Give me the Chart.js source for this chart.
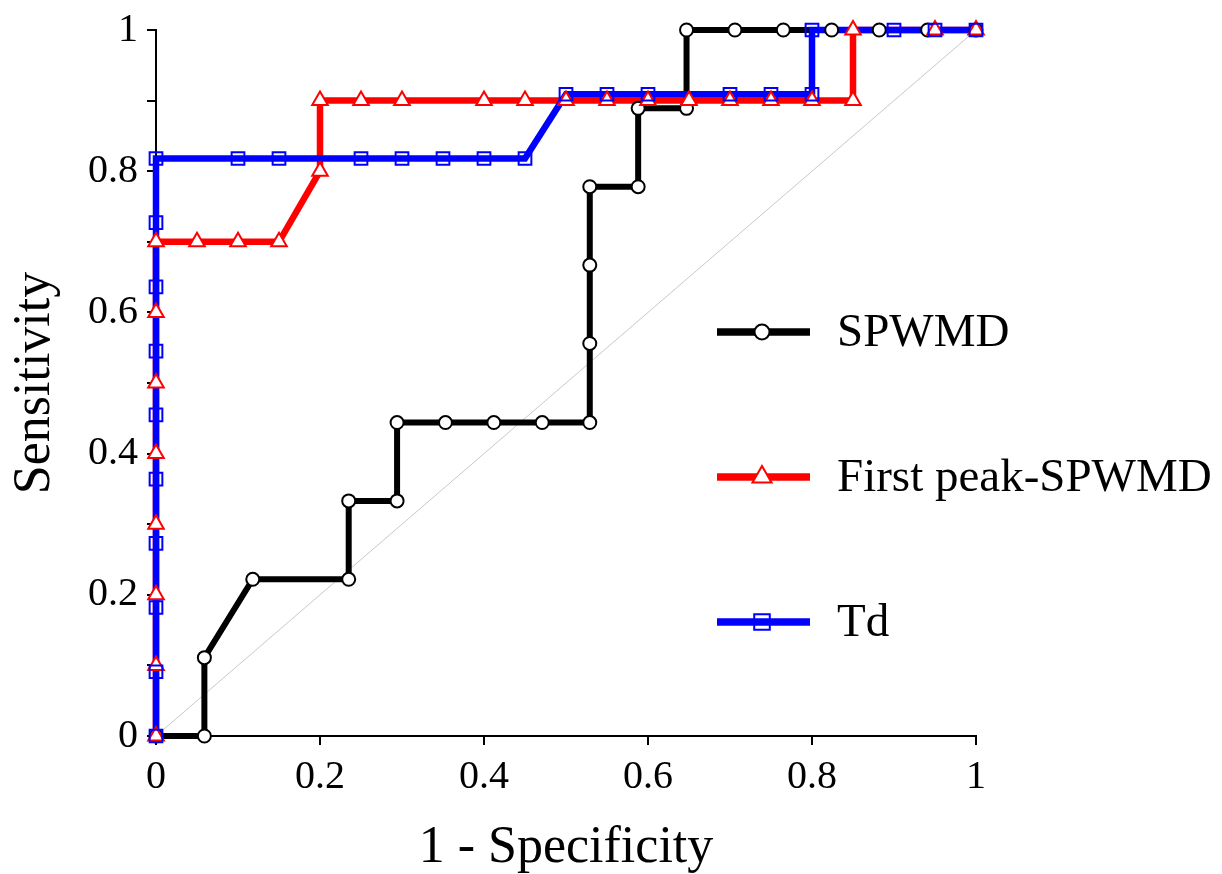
<!DOCTYPE html>
<html>
<head>
  <title>ROC curves</title>
  <script src="https://cdn.jsdelivr.net/npm/chart.js"></script>
  <style>
    body { margin: 0; background: white; }
    canvas { display: block; }
  </style>
</head>
<body>
  <canvas id="rocChart" width="1222" height="874"></canvas>
  <script>
    // 1 - specificity (x) and sensitivity (y)
    const spwmdX = [0, 0.059, 0.059, 0.118, 0.235, 0.235, 0.294, 0.294, 0.353, 0.412, 0.471, 0.529, 0.529, 0.529, 0.529, 0.588, 0.588, 0.647, 0.647, 0.706, 0.765, 0.824, 0.882, 0.941, 1];
    const spwmdY = [0, 0, 0.111, 0.222, 0.222, 0.333, 0.333, 0.444, 0.444, 0.444, 0.444, 0.444, 0.556, 0.667, 0.778, 0.778, 0.889, 0.889, 1, 1, 1, 1, 1, 1, 1];

    const peakX = [0, 0, 0, 0, 0, 0, 0, 0, 0.05, 0.1, 0.15, 0.2, 0.2, 0.25, 0.3, 0.4, 0.45, 0.5, 0.55, 0.6, 0.65, 0.7, 0.75, 0.8, 0.85, 0.85, 0.95, 1];
    const peakY = [0, 0.1, 0.2, 0.3, 0.4, 0.5, 0.6, 0.7, 0.7, 0.7, 0.7, 0.8, 0.9, 0.9, 0.9, 0.9, 0.9, 0.9, 0.9, 0.9, 0.9, 0.9, 0.9, 0.9, 0.9, 1, 1, 1];

    const tdX = [0, 0, 0, 0, 0, 0, 0, 0, 0, 0, 0.1, 0.15, 0.25, 0.3, 0.35, 0.4, 0.45, 0.5, 0.55, 0.6, 0.7, 0.75, 0.8, 0.8, 0.9, 0.95, 1];
    const tdY = [0, 0.091, 0.182, 0.273, 0.364, 0.455, 0.545, 0.636, 0.727, 0.818, 0.818, 0.818, 0.818, 0.818, 0.818, 0.818, 0.818, 0.909, 0.909, 0.909, 0.909, 0.909, 0.909, 1, 1, 1, 1];

    const diagX = [0, 1];
    const diagY = [0, 1];

    const seriesNames = ['SPWMD', 'First peak-SPWMD', 'Td'];
    const xTickLabels = ['0', '0.2', '0.4', '0.6', '0.8', '1'];
    const yTickLabels = ['0', '0.2', '0.4', '0.6', '0.8', '1'];

    const serif = "'Liberation Serif', 'Times New Roman', serif";

    function zip(xs, ys) {
      return xs.map((x, i) => ({ x: x, y: ys[i] }));
    }

    function lineSet(data, color, width, order) {
      return {
        data: data, showLine: true, borderColor: color, borderWidth: width,
        pointRadius: 0, tension: 0, clip: false, order: order
      };
    }

    function markerSet(data, color, style, radius, fill, order) {
      return {
        data: data, showLine: false, pointStyle: style, pointRadius: radius,
        pointBorderColor: color, pointBackgroundColor: fill, pointBorderWidth: 2,
        clip: false, order: order
      };
    }

    // legend drawn inside the plot, like the original
    const legendStyle = [
      { color: '#000000', style: 'circle', r: 7.5, fill: '#ffffff' },
      { color: '#ff0000', style: 'triangle', r: 11, fill: '#ffffff' },
      { color: '#0000ff', style: 'rect', r: 11, fill: 'rgba(255,255,255,0)' }
    ];

    function drawMarker(ctx, style, x, y, r) {
      ctx.beginPath();
      if (style === 'circle') {
        ctx.arc(x, y, r, 0, Math.PI * 2);
      } else if (style === 'triangle') {
        ctx.moveTo(x, y - r);
        ctx.lineTo(x + r * 0.866, y + r / 2);
        ctx.lineTo(x - r * 0.866, y + r / 2);
        ctx.closePath();
      } else {
        const s = r * Math.SQRT1_2;
        ctx.rect(x - s, y - s, 2 * s, 2 * s);
      }
      ctx.fill();
      ctx.stroke();
    }

    const insideLegend = {
      id: 'insideLegend',
      afterDraw(chart) {
        const ctx = chart.ctx;
        const rows = [332, 477, 622];
        ctx.save();
        seriesNames.forEach((name, i) => {
          const st = legendStyle[i];
          const y = rows[i];
          ctx.strokeStyle = st.color;
          ctx.lineWidth = 7.5;
          ctx.beginPath();
          ctx.moveTo(717, y);
          ctx.lineTo(810, y);
          ctx.stroke();
          ctx.lineWidth = 2;
          ctx.fillStyle = st.fill;
          drawMarker(ctx, st.style, 762, y, st.r);
          ctx.fillStyle = '#000';
          ctx.font = '47px ' + serif;
          ctx.textBaseline = 'middle';
          ctx.textAlign = 'left';
          ctx.fillText(name, 837, y + 2);
        });
        ctx.restore();
      }
    };

    new Chart(document.getElementById('rocChart'), {
      type: 'scatter',
      data: {
        datasets: [
          lineSet(zip(diagX, diagY), '#c8c8c8', 1, 10),
          lineSet(zip(spwmdX, spwmdY), '#000000', 6, 9),
          lineSet(zip(peakX, peakY), '#ff0000', 6.5, 8),
          lineSet(zip(tdX, tdY), '#0000ff', 6.5, 7),
          markerSet(zip(spwmdX, spwmdY), '#000000', 'circle', 6.5, '#ffffff', 3),
          markerSet(zip(peakX, peakY), '#ff0000', 'triangle', 9, '#ffffff', 2),
          markerSet(zip(tdX, tdY), '#0000ff', 'rect', 9, 'rgba(255,255,255,0)', 1)
        ]
      },
      options: {
        responsive: false,
        animation: false,
        events: [],
        layout: { padding: { left: 0, top: 30, right: 246, bottom: 0 } },
        plugins: {
          legend: { display: false },
          tooltip: { enabled: false }
        },
        scales: {
          x: {
            type: 'linear', min: 0, max: 1,
            afterFit(scale) { scale.height = 138; },
            border: { display: true, color: '#000', width: 2 },
            grid: { drawOnChartArea: false, drawTicks: true, tickLength: 9, color: '#000', lineWidth: 2 },
            ticks: {
              stepSize: 0.2, padding: 8, color: '#000', maxRotation: 0, autoSkip: false,
              font: { family: serif, size: 40 },
              callback: v => xTickLabels[Math.round(v * 5)]
            },
            title: {
              display: true, text: '1 - Specificity', color: '#000',
              font: { family: serif, size: 52, lineHeight: 1.0 }, padding: { top: 0, bottom: 0 }
            }
          },
          y: {
            type: 'linear', min: 0, max: 1,
            afterFit(scale) { scale.width = 156; },
            border: { display: true, color: '#000', width: 2 },
            grid: { drawOnChartArea: false, drawTicks: true, tickLength: 9, color: '#000', lineWidth: 2 },
            ticks: {
              stepSize: 0.1, padding: 9, color: '#000', autoSkip: false,
              font: { family: serif, size: 40, lineHeight: 1.0 },
              callback: v => {
                const k = Math.round(v * 10);
                return k % 2 === 0 ? yTickLabels[k / 2] : '';
              }
            },
            title: {
              display: true, text: 'Sensitivity', color: '#000',
              font: { family: serif, size: 52 }, padding: { top: 4, bottom: 0 }
            }
          }
        }
      },
      plugins: [insideLegend]
    });
  </script>
</body>
</html>
